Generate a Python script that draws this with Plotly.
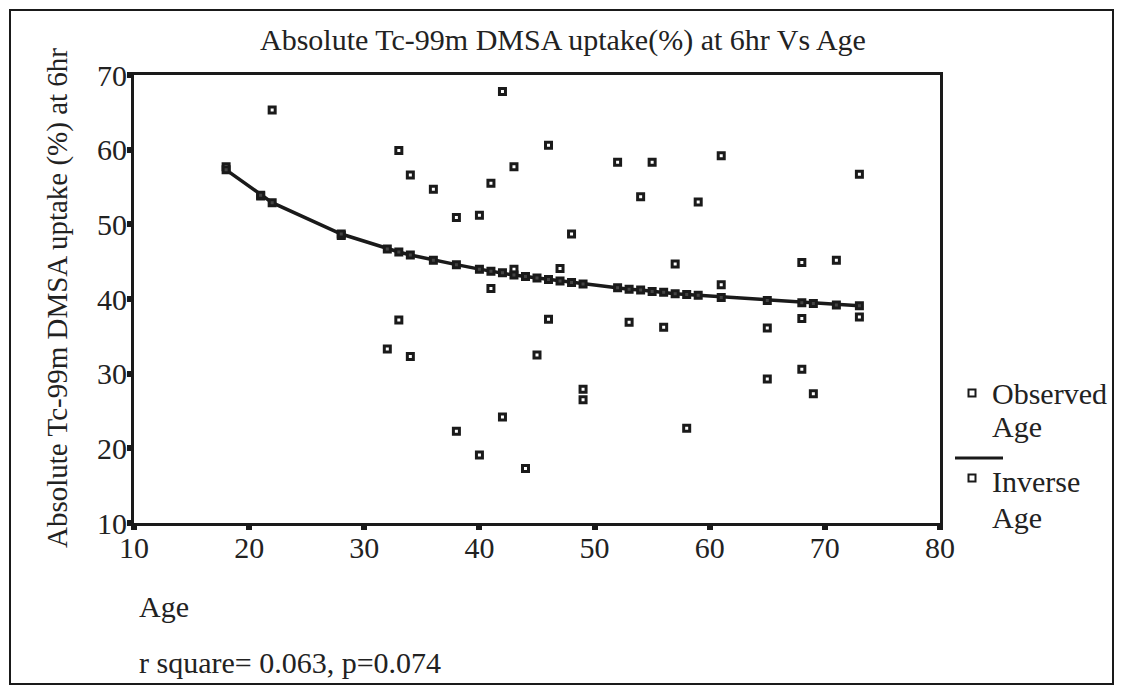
import plotly.graph_objects as go

# ---- data ----
obs_age = [18, 21, 22, 28, 32, 33, 33, 34, 34, 36, 38, 38, 40, 40, 41, 41, 42, 42,
           43, 43, 44, 45, 46, 46, 47, 48, 49, 49, 52, 53, 54, 55, 56, 57, 58, 59,
           61, 61, 65, 65, 68, 68, 68, 69, 71, 73, 73]
obs_uptake = [57.7, 53.8, 65.3, 48.5, 33.3, 59.9, 37.2, 56.6, 32.3, 54.7, 50.9, 22.3,
              51.2, 19.1, 55.5, 41.4, 67.8, 24.2, 57.7, 44.0, 17.3, 32.5, 60.6, 37.3,
              44.1, 48.7, 27.9, 26.5, 58.3, 36.9, 53.7, 58.3, 36.2, 44.7, 22.7, 53.0,
              59.2, 41.9, 36.1, 29.3, 44.9, 37.4, 30.6, 27.3, 45.2, 56.7, 37.6]

fit_age = [18, 21, 22, 28, 32, 33, 34, 36, 38, 40, 41, 42, 43, 44, 45, 46, 47, 48,
           49, 52, 53, 54, 55, 56, 57, 58, 59, 61, 65, 68, 69, 71, 73]
fit_uptake = [57.3, 53.9, 52.9, 48.7, 46.7, 46.3, 45.9, 45.2, 44.6, 44.0, 43.7, 43.5,
              43.2, 43.0, 42.8, 42.6, 42.4, 42.2, 42.0, 41.5, 41.3, 41.2, 41.0, 40.9,
              40.7, 40.6, 40.5, 40.2, 39.8, 39.5, 39.4, 39.2, 39.1]

x_ticks = [10, 20, 30, 40, 50, 60, 70, 80]
y_ticks = [10, 20, 30, 40, 50, 60, 70]

title_text = "Absolute Tc-99m DMSA uptake(%) at 6hr Vs Age"
ytitle_text = "Absolute Tc-99m DMSA uptake (%) at 6hr"
xtitle_text = "Age"
stats_text = "r square= 0.063, p=0.074"
legend_labels = ["Observed", "Age", "Inverse", "Age"]

# ---- layout geometry (pixels, page coordinates; page body has 8px margin) ----
OFF = 8
W, H = 1123 - 2 * OFF, 698 - 2 * OFF
PLOT_L, PLOT_R, PLOT_T, PLOT_B = 134, 940, 75, 523   # plot box on the page
L, T = PLOT_L - OFF, PLOT_T - OFF
R, B = W - (PLOT_R - OFF), H - (PLOT_B - OFF)
PW, PH = PLOT_R - PLOT_L, PLOT_B - PLOT_T
FONT = "Liberation Serif"
INK = "#1a1a1a"
TXT = "#222"


def px(x):
    return (x - PLOT_L) / PW


def py(y):
    return (PLOT_B - y) / PH


fig = go.Figure()
fig.add_trace(go.Scatter(
    x=obs_age, y=obs_uptake, mode="markers", name="Observed Age",
    marker=dict(symbol="square", size=6, color="white", line=dict(color=INK, width=3)),
    showlegend=False))
fig.add_trace(go.Scatter(
    x=fit_age, y=fit_uptake, mode="lines+markers", name="Inverse Age",
    line=dict(color=INK, width=3.5),
    marker=dict(symbol="square", size=6, color="#444", line=dict(color=INK, width=3)),
    showlegend=False))

axis_common = dict(showline=True, linecolor=INK, linewidth=3, mirror=True,
                   showgrid=False, zeroline=False, ticks="outside",
                   tickcolor=INK, tickwidth=6, ticklen=4,
                   tickfont=dict(family=FONT, size=30, color=TXT))
fig.update_xaxes(range=[10, 80], tickvals=x_ticks, ticklabelstandoff=-8, **axis_common)
fig.update_yaxes(range=[10, 70], tickvals=y_ticks, ticklabelstandoff=-6, **axis_common)

ann = []
ann.append(dict(text=title_text, x=px(563), y=py(40), xanchor="center", yanchor="middle",
                font=dict(family=FONT, size=30, color=TXT)))
ann.append(dict(text=ytitle_text, x=px(57), y=py(298), xanchor="center", yanchor="middle",
                textangle=-90, font=dict(family=FONT, size=29, color=TXT)))
ann.append(dict(text=xtitle_text, x=px(137), y=py(606), xanchor="left", yanchor="middle",
                font=dict(family=FONT, size=30, color=TXT)))
ann.append(dict(text=stats_text, x=px(137), y=py(662), xanchor="left", yanchor="middle",
                font=dict(family=FONT, size=30, color=TXT)))
for lab, yy in zip(legend_labels, [393, 426, 481, 517]):
    ann.append(dict(text=lab, x=px(990), y=py(yy), xanchor="left", yanchor="middle",
                    font=dict(family=FONT, size=30, color=TXT)))
for a in ann:
    a.update(xref="paper", yref="paper", showarrow=False)

shapes = [
    # outer frame
    dict(type="rect", x0=px(10), x1=px(1113), y0=py(684), y1=py(10),
         line=dict(color=INK, width=2)),
    # legend line
    dict(type="line", x0=px(955), x1=px(1003), y0=py(458), y1=py(458),
         line=dict(color=INK, width=3)),
    # legend markers
    dict(type="rect", x0=px(968.5), x1=px(975.5), y0=py(396.5), y1=py(389.5),
         fillcolor="white", line=dict(color=INK, width=2)),
    dict(type="rect", x0=px(968.5), x1=px(975.5), y0=py(481.5), y1=py(474.5),
         fillcolor="white", line=dict(color=INK, width=2)),
]
for s in shapes:
    s.update(xref="paper", yref="paper")

fig.update_layout(
    width=W, height=H, autosize=False,
    margin=dict(l=L, r=R, t=T, b=B),
    paper_bgcolor="white", plot_bgcolor="white",
    annotations=ann, shapes=shapes, showlegend=False,
)

fig.write_html("out.html")
